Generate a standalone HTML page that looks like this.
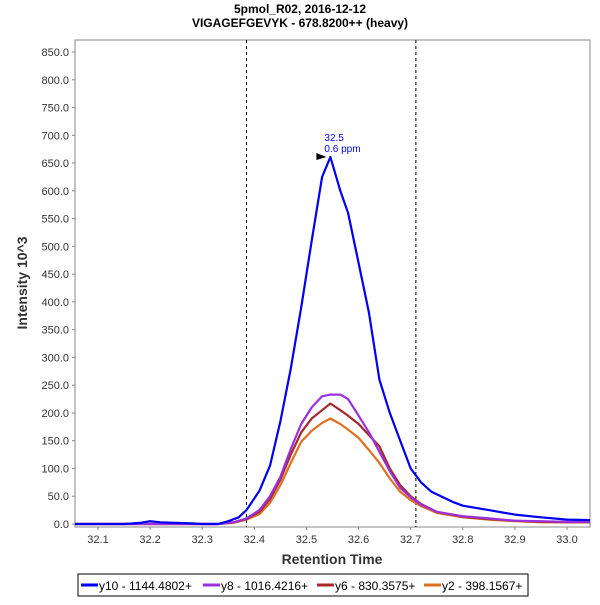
<!DOCTYPE html>
<html><head><meta charset="utf-8"><style>
body{margin:0;background:#fff;font-family:"Liberation Sans",sans-serif}
</style></head><body>
<svg id="chart" width="600" height="600" xmlns="http://www.w3.org/2000/svg">
<text x="300" y="13" text-anchor="middle" font-size="12" font-weight="bold" font-family="Liberation Sans">5pmol_R02, 2016-12-12</text>
<text x="300" y="27" text-anchor="middle" font-size="12" font-weight="bold" font-family="Liberation Sans">VIGAGEFGEVYK - 678.8200++ (heavy)</text>
<rect x="75" y="40" width="515" height="487" fill="#fff" stroke="#888"/>
<g id="yticks"></g><g id="xticks"></g><g id="marks"></g>
<text transform="translate(27,283) rotate(-90)" text-anchor="middle" font-size="14" font-weight="bold" fill="#333" font-family="Liberation Sans">Intensity 10^3</text>
<text x="332" y="564" text-anchor="middle" font-size="14" font-weight="bold" fill="#333" font-family="Liberation Sans">Retention Time</text>
<g>
<rect x="78" y="574" width="450" height="22" fill="#fff" stroke="#000"/>
<line x1="81" y1="585" x2="98" y2="585" stroke="#0000ee" stroke-width="3"/>
<text x="99" y="590" font-size="12" font-family="Liberation Sans">y10 - 1144.4802+</text>
<line x1="203" y1="585" x2="220" y2="585" stroke="#9b30e0" stroke-width="3"/>
<text x="221" y="590" font-size="12" font-family="Liberation Sans">y8 - 1016.4216+</text>
<line x1="317" y1="585" x2="334" y2="585" stroke="#a52a2a" stroke-width="3"/>
<text x="335" y="590" font-size="12" font-family="Liberation Sans">y6 - 830.3575+</text>
<line x1="424" y1="585" x2="441" y2="585" stroke="#e07020" stroke-width="3"/>
<text x="442" y="590" font-size="12" font-family="Liberation Sans">y2 - 398.1567+</text>
</g>
</svg>
<script>
const xTicks=[32.1,32.2,32.3,32.4,32.5,32.6,32.7,32.8,32.9,33.0];
const yTicks=[0,50,100,150,200,250,300,350,400,450,500,550,600,650,700,750,800,850];
const boundaries=[32.385,32.71];
const peakTime=32.546, peakValue=661;
const tY10=[32.056,32.15,32.18,32.2,32.22,32.25,32.28,32.3,32.33,32.35,32.37,32.385,32.41,32.43,32.45,32.47,32.49,32.51,32.53,32.546,32.565,32.58,32.60,32.62,32.64,32.66,32.68,32.70,32.72,32.74,32.78,32.80,32.85,32.9,32.95,33.0,33.044];
const vY10=[0,0,2,5,3,2,1,0,0,5,12,25,60,105,185,280,390,510,625,661,600,560,470,380,260,200,150,100,75,58,40,33,25,17,12,8,7];
const tIons=[32.056,32.33,32.36,32.385,32.41,32.43,32.45,32.47,32.49,32.51,32.53,32.546,32.565,32.58,32.60,32.62,32.64,32.66,32.68,32.70,32.72,32.75,32.8,32.85,32.9,32.95,33.0,33.044];
const vY8=[0,0,3,10,25,50,85,135,180,210,230,233,233,225,195,165,130,95,65,48,35,22,14,10,6,5,4,4];
const vY6=[0,0,3,9,22,45,80,125,165,190,205,217,205,195,180,160,140,100,70,50,36,22,13,9,6,4,3,3];
const vY2=[0,0,2,8,18,38,70,110,148,168,182,190,180,170,155,133,110,82,58,43,32,20,12,8,5,3,3,3];
const series=[["y10",tY10,vY10,"#0000ee"],["y8",tIons,vY8,"#9b30e0"],["y6",tIons,vY6,"#a52a2a"],["y2",tIons,vY2,"#e07020"]];
const NS="http://www.w3.org/2000/svg";
const sx=t=>98+(t-32.1)/0.9*469;
const sy=v=>524-v*472/850;
function mk(tag,attrs,parent){const e=document.createElementNS(NS,tag);for(const k in attrs)e.setAttribute(k,attrs[k]);document.getElementById(parent).appendChild(e);return e;}
yTicks.forEach(v=>{
 const l=mk("line",{x1:72,x2:75,y1:sy(v),y2:sy(v),stroke:"#888"},"yticks");
 
 
 const t=mk("text",{x:69,y:sy(v)+4,"text-anchor":"end","font-size":11,fill:"#333","font-family":"Liberation Sans"},"yticks");
 t.textContent=v.toFixed(1);
 
 
});
xTicks.forEach(v=>{
 const l=mk("line",{x1:sx(v),x2:sx(v),y1:527,y2:530,stroke:"#888"},"xticks");
 
 
 const t=mk("text",{x:sx(v),y:543,"text-anchor":"middle","font-size":11,fill:"#333","font-family":"Liberation Sans"},"xticks");
 t.textContent=v.toFixed(1);
 
 
});
boundaries.forEach(b=>{
 const l=mk("line",{x1:sx(b),x2:sx(b),y1:40,y2:527,stroke:"#000","stroke-dasharray":"3,3","stroke-width":1},"marks");
 
 
});
series.slice().reverse().forEach(([n,ts,vs,c])=>{
 const p=mk("polyline",{points:ts.map((t,i)=>sx(t).toFixed(1)+","+sy(vs[i]).toFixed(1)).join(" "),fill:"none",stroke:c,"stroke-width":2.2,"stroke-linejoin":"round"},"marks");
 
 
});
const px=sx(peakTime),py=sy(peakValue);
const a=mk("polygon",{points:`${px-14},${py-4} ${px-4},${py} ${px-14},${py+3}`,fill:"#000"},"marks");


const t1=mk("text",{x:px-6,y:py-16,"font-size":10,fill:"#0000ee","font-family":"Liberation Sans"},"marks");
t1.textContent=peakTime.toFixed(1);


const t2=mk("text",{x:px-6,y:py-5,"font-size":10,fill:"#0000ee","font-family":"Liberation Sans"},"marks");
t2.textContent="0.6 ppm";


</script>
</body></html>
